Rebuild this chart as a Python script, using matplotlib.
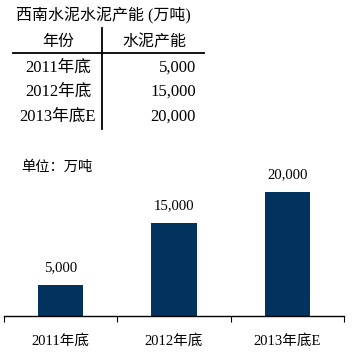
import numpy as np
import matplotlib.pyplot as plt
from matplotlib.lines import Line2D

# data
years = ['2011年底', '2012年底', '2013年底E']
capacity = [5000, 15000, 20000]
title = '西南水泥水泥产能 (万吨)'
col_heads = ['年份', '水泥产能']
unit_text = '单位：万吨'

W, H = 352, 353
plt.rcParams['font.family'] = ['Liberation Serif', 'Noto Sans CJK SC']
plt.rcParams['font.size'] = 10

fig = plt.figure(figsize=(W / 100, H / 100), dpi=100)

def px(x, y):
    # pixel coords (top-left origin) -> figure fraction
    return x / W, 1 - y / H

# table at the top
fig.text(*px(16, 16), title, ha='left', va='center', fontsize=11.5)
fig.text(*px(58, 42), col_heads[0], ha='center', va='center', fontsize=11.5)
fig.text(*px(154, 42), col_heads[1], ha='center', va='center', fontsize=11.5)
row_y = [68, 92, 117]
for yr, val, ry in zip(years, capacity, row_y):
    fig.text(*px(58, ry), yr, ha='center', va='center', fontsize=12)
    fig.text(*px(196, ry), f'{val:,}', ha='right', va='center', fontsize=12)
x0, y0 = px(13, 52.5)
x1, _ = px(204, 52.5)
fig.add_artist(Line2D([x0, x1], [y0, y0], color='black', lw=1.3))
vx, vy0 = px(102, 28)
_, vy1 = px(102, 129)
fig.add_artist(Line2D([vx, vx], [vy0, vy1], color='black', lw=1.3))

fig.text(*px(21, 167), unit_text, ha='left', va='center', fontsize=10.3)

# bar chart
top_px, base_px = 150, 316
ax = fig.add_axes([4 / W, 1 - base_px / H, 340 / W, (base_px - top_px) / H])
x = np.arange(len(years))
ax.bar(x, capacity, width=0.4, color='#02335f')
ax.set_xlim(-0.5, len(years) - 0.5)
ax.set_ylim(0, 20000 * (base_px - top_px) / 124)
for xi, v in zip(x, capacity):
    ax.annotate(f'{v:,}', (xi, v), xytext=(0, 8), textcoords='offset points',
                ha='center', va='bottom', fontsize=10.6)
for s in ['top', 'left', 'right']:
    ax.spines[s].set_visible(False)
ax.spines['bottom'].set_linewidth(1)
ax.set_yticks([])
ax.set_xticks(x)
ax.set_xticklabels(years, fontsize=10.5)
ax.tick_params(axis='x', which='major', length=0, pad=13)
ax.set_xticks(np.arange(-0.5, len(years)), minor=True)
ax.tick_params(axis='x', which='minor', length=4, direction='out', width=0.8)

fig.savefig('out.png', dpi=100)
